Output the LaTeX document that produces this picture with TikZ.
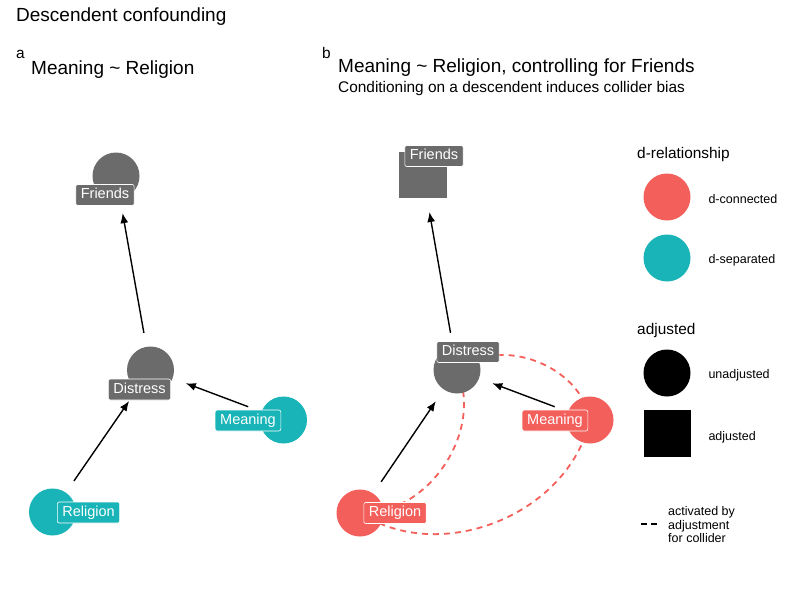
\documentclass[tikz,border=0pt]{standalone}
\usepackage{fontspec}
\setmainfont{Liberation Sans}
\usepackage{xcolor}
\usepackage{tikz}
\usetikzlibrary{positioning,arrows.meta,backgrounds,shapes}

\definecolor{dconn}{HTML}{F35F5B}
\definecolor{dsep}{HTML}{18B4B7}
\definecolor{dgrey}{HTML}{6B6B6B}

\newcommand{\bigfont}{\fontsize{19}{22}\selectfont}
\newcommand{\midfont}{\fontsize{15.4}{18}\selectfont}
\newcommand{\smallfont}{\fontsize{12.5}{13.3}\selectfont}

\tikzset{
  dagnode/.style={circle,fill=#1,minimum size=47pt,inner sep=0pt},
  adjnode/.style={rectangle,fill=#1,minimum width=48pt,minimum height=46pt,inner sep=0pt},
  daglabel/.style={rectangle,rounded corners=2pt,fill=#1,draw=white,line width=0.6pt,text=white,
    font=\fontsize{14.5}{14.5}\selectfont,text height=10pt,text depth=3pt,inner xsep=5pt,inner ysep=4pt},
  dagedge/.style={-{Latex[length=10pt,width=8pt]},line width=1.4pt,shorten >=14pt,shorten <=14pt},
  collider/.style={dconn,line width=1.8pt,dash pattern=on 6pt off 5pt},
  legtext/.style={anchor=base west,font=\smallfont},
}

\begin{document}
\begin{tikzpicture}[x=1pt,y=1pt]
\useasboundingbox (0,0) rectangle (800,-600);

% titles
\node[anchor=base west,inner sep=0pt,font=\bigfont] (title) at (16,-21) {Descendent confounding};
\node[anchor=base west,inner sep=0pt,font=\midfont] (taga) at (16,-58) {a};
\node[anchor=base west,inner sep=0pt,font=\bigfont] (titlea) at (31,-74) {Meaning \textasciitilde{} Religion};
\node[anchor=base west,inner sep=0pt,font=\midfont] (tagb) at (322,-58) {b};
\node[anchor=base west,inner sep=0pt,font=\bigfont] (titleb) at (338,-72) {Meaning \textasciitilde{} Religion, controlling for Friends};
\node[anchor=base west,inner sep=0pt,font=\midfont] (subb) at (338,-92.5) {Conditioning on a descendent induces collider bias};

% panel a
\node[dagnode=dgrey] (fri-a) at (116,-176) {};
\node[dagnode=dgrey] (dis-a) at (150.5,-370) {};
\node[dagnode=dsep] (mea-a) at (283.5,-420) {};
\node[dagnode=dsep] (rel-a) at (52.5,-512) {};
\draw[dagedge] (rel-a) -- (dis-a);
\draw[dagedge] (mea-a) -- (dis-a);
\draw[dagedge] (dis-a) -- (fri-a);
\node[daglabel=dgrey] (fri-a-lab) at (105,-195) {Friends};
\node[daglabel=dgrey] (dis-a-lab) at (139.5,-389.5) {Distress};
\node[daglabel=dsep] (mea-a-lab) at (248,-420.5) {Meaning};
\node[daglabel=dsep] (rel-a-lab) at (88.5,-512.5) {Religion};

% panel b
\node[adjnode=dgrey] (fri-b) at (423,-175) {};
\node[dagnode=dgrey] (dis-b) at (457,-370) {};
\node[dagnode=dconn] (mea-b) at (590,-420) {};
\node[dagnode=dconn] (rel-b) at (360,-513) {};
\draw[dagedge] (rel-b) -- (dis-b);
\draw[dagedge] (mea-b) -- (dis-b);
\draw[dagedge] (dis-b) -- (fri-b);
\begin{scope}[on background layer]
\fill[white] (0,0) rectangle (800,-600);
\draw[collider] (dis-b.center) to[bend left=60] (mea-b.center);
\draw[collider] (dis-b.center) to[bend left=58] (rel-b.center);
\draw[collider] (rel-b.center) to[bend right=55] (mea-b.center);
\end{scope}
\node[daglabel=dgrey] (fri-b-lab) at (434,-156) {Friends};
\node[daglabel=dgrey] (dis-b-lab) at (468,-352) {Distress};
\node[daglabel=dconn] (mea-b-lab) at (555,-420.5) {Meaning};
\node[daglabel=dconn] (rel-b-lab) at (395,-513) {Religion};

% legend
\node[anchor=base west,inner sep=0pt,font=\midfont] (leg-rel) at (637,-158) {d-relationship};
\node[dagnode=dconn] (leg-conn) at (667,-197) {};
\node[legtext] at (705,-203) {d-connected};
\node[dagnode=dsep] (leg-sep) at (667,-258) {};
\node[legtext] at (705,-263) {d-separated};
\node[anchor=base west,inner sep=0pt,font=\midfont] (leg-adj) at (637,-334) {adjusted};
\node[dagnode=black] (leg-unadj) at (667,-373) {};
\node[legtext] at (705,-378) {unadjusted};
\node[adjnode=black,minimum width=47pt,minimum height=47pt] (leg-adjsq) at (667.5,-433.5) {};
\node[legtext] at (705,-440) {adjusted};
\coordinate (leg-d1) at (641,-524);
\coordinate (leg-d2) at (657,-524);
\draw[line width=1.8pt,dash pattern=on 6pt off 4pt] (leg-d1) -- (leg-d2);
% base of a multi-line node is its last line
\node[anchor=base west,inner sep=0pt,font=\smallfont,align=left] (leg-act) at (668,-542.5) {activated by\\adjustment\\for collider};
\end{tikzpicture}
\end{document}
